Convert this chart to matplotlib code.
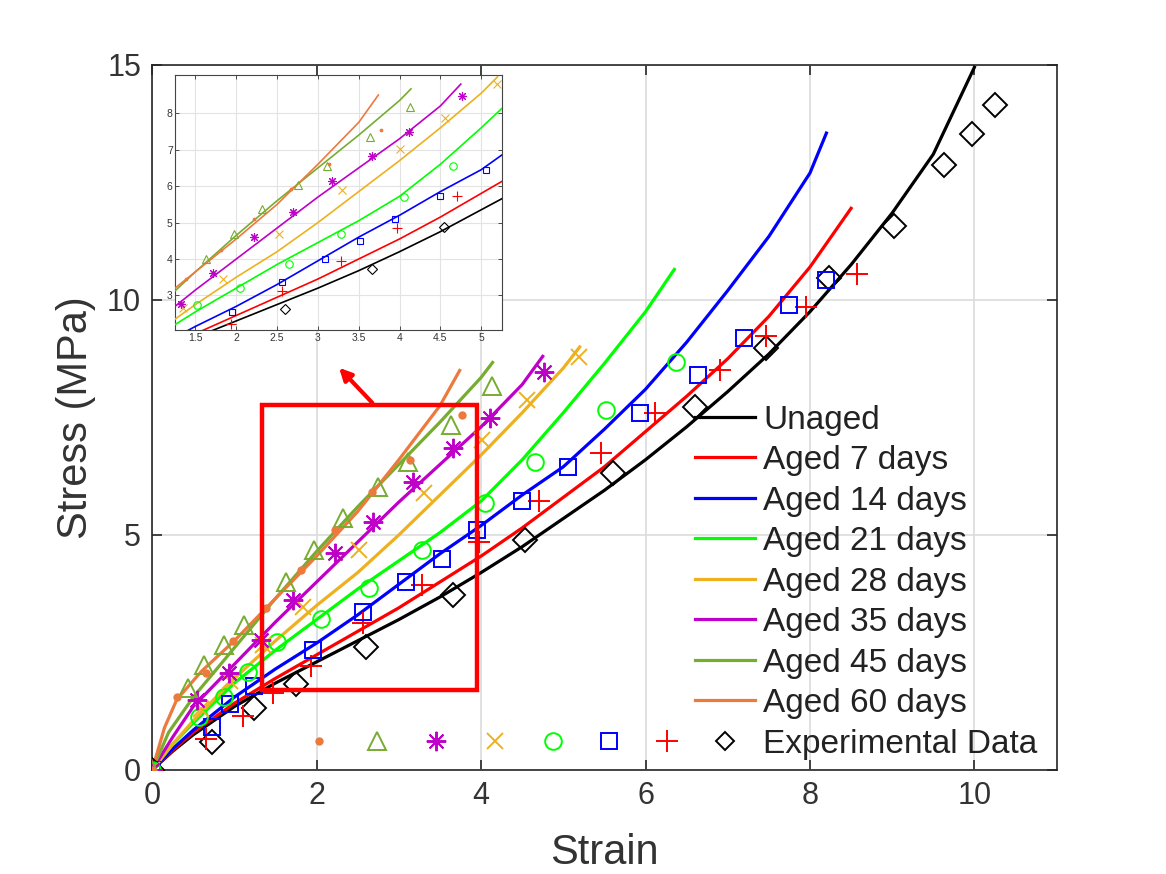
import numpy as np
import matplotlib
matplotlib.use("Agg")
import matplotlib.pyplot as plt

plt.rcParams['font.family'] = ['Liberation Sans', 'DejaVu Sans']

labels = ['Unaged', 'Aged 7 days', 'Aged 14 days', 'Aged 21 days', 'Aged 28 days',
          'Aged 35 days', 'Aged 45 days', 'Aged 60 days']
colors = ['#000000', '#FF0000', '#0000FF', '#00FF00', '#EDB120', '#BF00C8', '#77AC30', '#EC7A3C']
markers = ['D', '+', 's', 'o', 'x', (8, 2, 0), '^', 'o']

# model curves (strain, stress)
fit_x = [
    [0, 0.25, 0.5, 1.0, 1.5, 2.0, 2.5, 3.0, 3.5, 4.0, 4.5, 5.0, 5.5, 6.0, 6.5, 7.0, 7.5, 8.0, 8.5, 9.0, 9.5, 10.0],
    [0, 0.25, 0.5, 1.0, 1.5, 2.0, 2.5, 3.0, 3.5, 4.0, 4.5, 5.0, 5.5, 6.0, 6.5, 7.0, 7.5, 8.0, 8.5],
    [0, 0.25, 0.5, 1.0, 1.5, 2.0, 2.5, 3.0, 3.5, 4.0, 4.5, 5.0, 5.5, 6.0, 6.5, 7.0, 7.5, 8.0, 8.2],
    [0, 0.25, 0.5, 1.0, 1.5, 2.0, 2.5, 3.0, 3.5, 4.0, 4.5, 5.0, 5.5, 6.0, 6.35],
    [0, 0.25, 0.5, 1.0, 1.5, 2.0, 2.5, 3.0, 3.5, 4.0, 4.5, 5.0, 5.2],
    [0, 0.25, 0.5, 1.0, 1.5, 2.0, 2.5, 3.0, 3.5, 4.0, 4.5, 4.75],
    [0, 0.2, 0.5, 1.0, 1.5, 2.0, 2.5, 3.0, 3.5, 4.0, 4.14],
    [0, 0.15, 0.3, 0.6, 1.0, 1.5, 2.0, 2.5, 3.0, 3.5, 3.74],
]
fit_y = [
    [0, 0.4, 0.75, 1.35, 1.85, 2.3, 2.75, 3.2, 3.68, 4.2, 4.75, 5.35, 5.95, 6.6, 7.3, 8.05, 8.85, 9.75, 10.75, 11.85, 13.1, 14.95],
    [0, 0.42, 0.8, 1.42, 1.95, 2.45, 2.95, 3.45, 4.0, 4.55, 5.15, 5.8, 6.45, 7.2, 7.95, 8.75, 9.65, 10.7, 11.95],
    [0, 0.45, 0.85, 1.55, 2.15, 2.7, 3.3, 3.95, 4.6, 5.2, 5.85, 6.45, 7.25, 8.1, 9.1, 10.2, 11.35, 12.7, 13.55],
    [0, 0.55, 1.0, 1.85, 2.55, 3.2, 3.85, 4.45, 5.05, 5.72, 6.6, 7.6, 8.65, 9.75, 10.65],
    [0, 0.55, 1.05, 1.95, 2.75, 3.5, 4.2, 5.0, 5.85, 6.7, 7.6, 8.55, 9.0],
    [0, 0.7, 1.35, 2.25, 3.15, 4.0, 4.85, 5.7, 6.5, 7.3, 8.2, 8.8],
    [0, 0.8, 1.55, 2.6, 3.65, 4.65, 5.6, 6.5, 7.4, 8.35, 8.67],
    [0, 0.9, 1.5, 2.1, 2.75, 3.65, 4.55, 5.5, 6.6, 7.75, 8.5],
]

# experimental data
exp_x = [
    [0, 0.73, 1.24, 1.75, 2.60, 3.66, 4.54, 5.60, 6.60, 7.47, 8.23, 9.02, 9.63, 9.97, 10.25],
    [0, 0.65, 1.10, 1.47, 1.93, 2.56, 3.28, 3.97, 4.70, 5.46, 6.11, 6.90, 7.47, 7.95, 8.57],
    [0, 0.73, 0.95, 1.24, 1.95, 2.56, 3.09, 3.52, 3.95, 4.50, 5.06, 5.93, 6.64, 7.20, 7.74, 8.19],
    [0, 0.57, 0.87, 1.16, 1.52, 2.05, 2.64, 3.28, 4.05, 4.65, 5.52, 6.37],
    [0, 0.60, 0.95, 1.35, 1.84, 2.52, 3.30, 4.01, 4.56, 5.19],
    [0, 0.55, 0.93, 1.32, 1.71, 2.22, 2.69, 3.17, 3.66, 4.11, 4.76],
    [0, 0.44, 0.63, 0.87, 1.12, 1.63, 1.97, 2.32, 2.75, 3.11, 3.64, 4.13],
    [0, 0.30, 0.65, 0.98, 1.38, 1.81, 2.22, 2.67, 3.13, 3.77],
]
exp_y = [
    [0, 0.60, 1.31, 1.84, 2.62, 3.72, 4.89, 6.31, 7.73, 8.97, 10.46, 11.58, 12.87, 13.53, 14.15],
    [0, 0.65, 1.15, 1.63, 2.21, 3.12, 3.94, 4.86, 5.73, 6.74, 7.59, 8.51, 9.23, 9.86, 10.55],
    [0, 0.92, 1.40, 1.79, 2.55, 3.37, 4.01, 4.48, 5.11, 5.73, 6.45, 7.60, 8.40, 9.18, 9.89, 10.43],
    [0, 1.13, 1.55, 2.09, 2.73, 3.21, 3.87, 4.68, 5.69, 6.56, 7.66, 8.69],
    [0, 1.30, 1.90, 2.65, 3.46, 4.68, 5.90, 7.02, 7.87, 8.79],
    [0, 1.49, 2.06, 2.77, 3.62, 4.61, 5.28, 6.13, 6.84, 7.49, 8.47],
    [0, 1.74, 2.23, 2.66, 3.09, 4.01, 4.68, 5.36, 6.03, 6.56, 7.34, 8.16],
    [0, 1.56, 2.06, 2.75, 3.45, 4.26, 5.11, 5.92, 6.60, 7.55],
]

# marker key row under the legend (60, 45, 35, 28, 21, 14, 7 days)
key_x = [2.03, 2.74, 3.45, 4.17, 4.87, 5.56, 6.26]
key_y = 0.62

msize = [12, 16, 11, 12, 12, 14, 13, 6]


def style(i, scale=1.0):
    kw = dict(marker=markers[i], linestyle='None', markersize=msize[i] * scale,
              markeredgewidth=1.4 if scale >= 0.7 else 0.8)
    if i == 7:
        kw.update(color=colors[i], markerfacecolor=colors[i], markeredgewidth=0)
    else:
        kw.update(color=colors[i], markerfacecolor='none')
    return kw


fig = plt.figure(figsize=(11.66, 8.74), dpi=100)
ax = fig.add_axes([0.1305, 0.119, 0.7757, 0.8067])

handles = []
for i in range(8):
    h, = ax.plot(fit_x[i], fit_y[i], color=colors[i], lw=2.3, label=labels[i], zorder=3)
    handles.append(h)
for i in range(8):
    ax.plot(exp_x[i], exp_y[i], zorder=4, **style(i))
for k, i in enumerate([7, 6, 5, 4, 3, 2, 1]):
    ax.plot([key_x[k]], [key_y], zorder=4, clip_on=False, **style(i))
hexp, = ax.plot([], [], **style(0, 0.8))
handles.append(hexp)

ax.set_xlim(0, 11)
ax.set_ylim(0, 15)
ax.set_xticks([0, 2, 4, 6, 8, 10])
ax.set_yticks([0, 5, 10, 15])
ax.grid(True, color='#dcdcdc', lw=1.2)
ax.set_axisbelow(True)
ax.tick_params(direction='in', length=7, width=1.2, labelsize=22, top=True, right=True,
               colors='#262626', labelcolor='#333333', pad=8)
for s in ax.spines.values():
    s.set_color('#262626')
    s.set_linewidth(1.2)
ax.set_xlabel('Strain', fontsize=30, color='#333333', labelpad=16)
ax.set_ylabel('Stress (MPa)', fontsize=30, color='#333333', labelpad=8)

# zoom box and arrow
rect = plt.Rectangle((1.34, 1.7), 2.61, 6.07, fill=False, ec='#FF0000', lw=3.2, zorder=6)
ax.add_patch(rect)
ax.annotate('', xy=(2.25, 8.6), xytext=(2.7, 7.77),
            arrowprops=dict(arrowstyle='-|>', color='#FF0000', lw=3, mutation_scale=18),
            zorder=6)

leg = fig.legend(handles=handles, labels=labels + ['Experimental Data'],
                 loc='upper left', bbox_to_anchor=(0.596, 0.537), frameon=False,
                 fontsize=24, handlelength=1.8, handletextpad=0.25, labelspacing=0.285,
                 borderpad=0, borderaxespad=0)
for t in leg.get_texts():
    t.set_color('#222222')

# inset
axi = fig.add_axes([0.1505, 0.6224, 0.2804, 0.2918])
for i in range(8):
    axi.plot(fit_x[i], fit_y[i], color=colors[i], lw=1.2, zorder=3)
for i in range(8):
    axi.plot(exp_x[i], exp_y[i], zorder=4, **style(i, 0.45))
axi.set_xlim(1.255, 5.26)
axi.set_ylim(2.05, 9.05)
axi.set_xticks([1.5, 2, 2.5, 3, 3.5, 4, 4.5, 5])
axi.set_xticklabels(['1.5', '2', '2.5', '3', '3.5', '4', '4.5', '5'])
axi.set_yticks([3, 4, 5, 6, 7, 8])
axi.grid(True, color='#e3e3e3', lw=0.8)
axi.set_axisbelow(True)
axi.tick_params(direction='in', length=3, width=0.6, labelsize=7.5, top=True, right=True,
                colors='#333333', pad=2)
for s in axi.spines.values():
    s.set_color('#444444')
    s.set_linewidth(0.8)

fig.savefig('out.png', dpi=100)
